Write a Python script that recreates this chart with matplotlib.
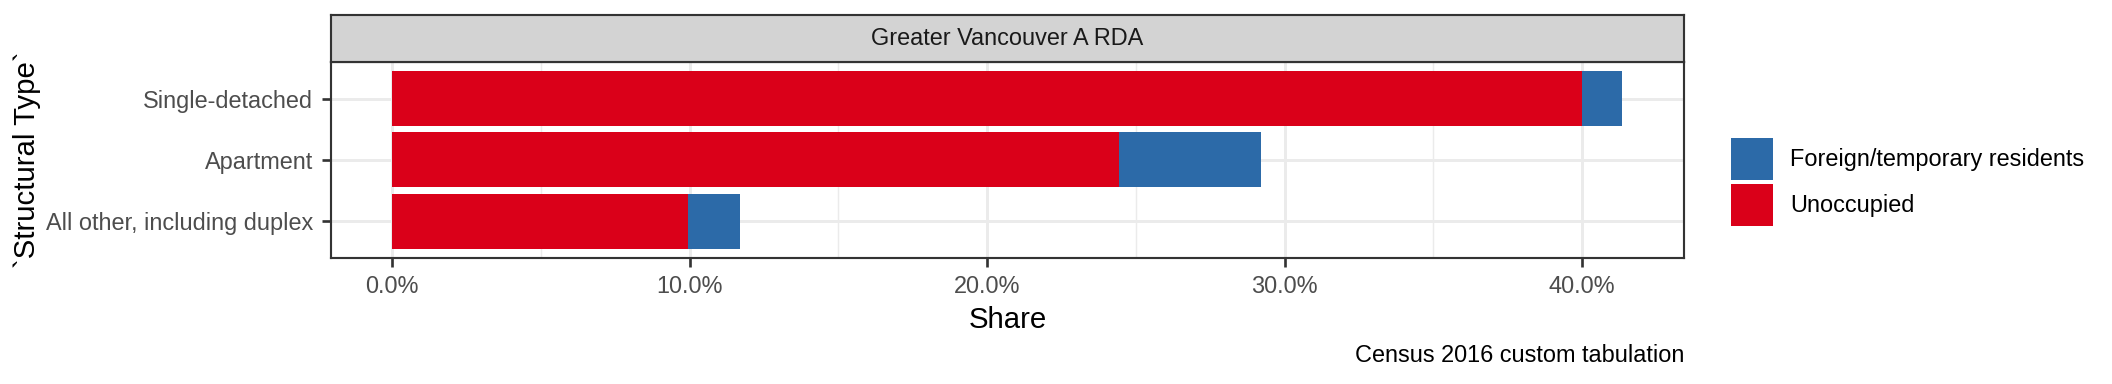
import matplotlib
matplotlib.use("Agg")
import matplotlib.pyplot as plt
from matplotlib.patches import Patch
from matplotlib.ticker import FuncFormatter, MultipleLocator

plt.rcParams['font.family'] = ['Liberation Sans', 'DejaVu Sans']

categories = ["All other, including duplex", "Apartment", "Single-detached"]
unoccupied = [0.0993, 0.2442, 0.4000]
foreign = [0.0175, 0.0479, 0.0136]
series_names = ["Foreign/temporary residents", "Unoccupied"]
facet_title = "Greater Vancouver A RDA"
x_ticks = [0.0, 0.1, 0.2, 0.3, 0.4]
caption = "Census 2016 custom tabulation"

RED = "#DA0019"
BLUE = "#2C6AA8"

W, H = 2112, 384
fig = plt.figure(figsize=(11, 2), dpi=192)

def fx(px):
    return px / W

def fy(py):
    return 1 - py / H

pl, pr, pt, pb = 330.7, 1684, 61.7, 258
ax = fig.add_axes([fx(pl), fy(pb), fx(pr) - fx(pl), fy(pt) - fy(pb)])
sax = fig.add_axes([fx(pl), fy(pt), fx(pr) - fx(pl), fy(15) - fy(pt)])

ypos = list(range(len(categories)))
ax.barh(ypos, unoccupied, height=0.9, color=RED, zorder=3, linewidth=0)
ax.barh(ypos, foreign, left=unoccupied, height=0.9, color=BLUE, zorder=3, linewidth=0)

totals = [u + f for u, f in zip(unoccupied, foreign)]
xmax = max(totals)
ax.set_xlim(-0.05 * xmax, 1.05 * xmax)
ax.set_ylim(-0.6, len(categories) - 0.4)

ax.set_xticks(x_ticks)
ax.xaxis.set_minor_locator(MultipleLocator(0.05))
ax.xaxis.set_major_formatter(FuncFormatter(lambda v, p: f"{v*100:.1f}%"))
ax.set_yticks(ypos)
ax.set_yticklabels(categories)

ax.grid(True, which='major', color='#EBEBEB', linewidth=1.1, zorder=0)
ax.grid(True, which='minor', axis='x', color='#EBEBEB', linewidth=0.55, zorder=0)
ax.set_axisbelow(True)

ax.tick_params(axis='both', which='major', length=3.5, width=1.0, color='#333333',
               labelsize=8.8, labelcolor='#4D4D4D', pad=3)
ax.tick_params(axis='x', which='minor', length=0)
for s in ax.spines.values():
    s.set_color('#333333')
    s.set_linewidth(0.8)

ax.set_xlabel("Share", fontsize=11, labelpad=3)
ax.set_ylabel("`Structural Type`", fontsize=11)
ax.yaxis.label.set_verticalalignment('center')
ax.yaxis.set_label_coords(fx(27), (fy(pt) + fy(pb)) / 2, transform=fig.transFigure)

# strip
sax.set_facecolor('#D3D3D3')
sax.set_xticks([])
sax.set_yticks([])
for s in sax.spines.values():
    s.set_color('#333333')
    s.set_linewidth(0.8)
sax.text(0.5, 0.5, facet_title, ha='center', va='center', fontsize=8.8,
         color='#1A1A1A', transform=sax.transAxes)

# legend
handles = [Patch(facecolor=BLUE, edgecolor='none'), Patch(facecolor=RED, edgecolor='none')]
fig.legend(handles, series_names, loc='upper left',
           bbox_to_anchor=(fx(1731), fy(138)), bbox_transform=fig.transFigure,
           frameon=False, fontsize=8.8, borderpad=0, borderaxespad=0,
           handlelength=1.79, handleheight=2.38, handletextpad=0.72,
           labelspacing=0.17)

fig.text(fx(pr), fy(356), caption, ha='right', va='center', fontsize=8.8, color='black')

fig.savefig("out.png", dpi=192)
